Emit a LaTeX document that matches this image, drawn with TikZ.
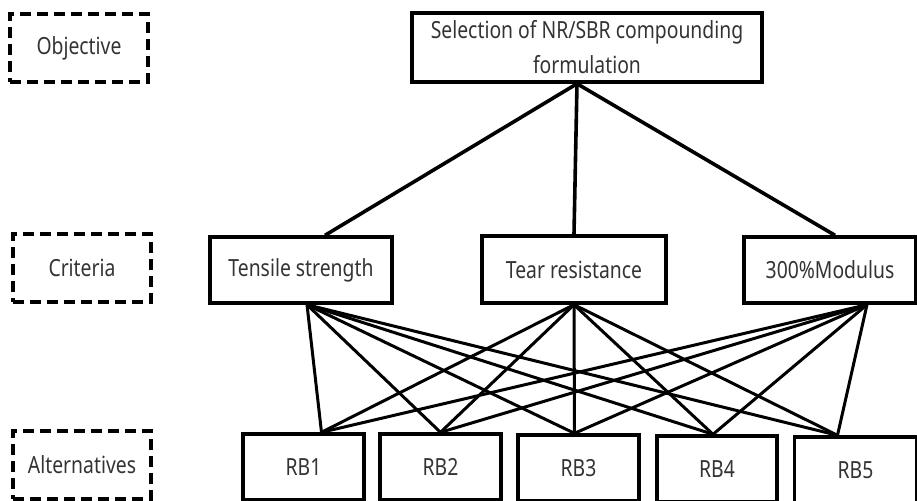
\documentclass[tikz,border=0pt]{standalone}
\usepackage{fontspec}
\setmainfont[FakeStretch=0.82]{Noto Sans}
\usetikzlibrary{positioning}

\begin{document}
\begin{tikzpicture}[
    x=0.5pt, y=-0.5pt,
    every node/.style={align=center, inner sep=0pt,
      font=\fontsize{11.8}{17.5}\selectfont, text=black!80},
    level/.style={draw, dashed, dash pattern=on 5.5pt off 3pt,
      line width=1.9pt, minimum width=69pt, minimum height=34pt},
    box/.style={draw, line width=1.7pt},
    link/.style={line width=1.5pt}
  ]
  \useasboundingbox (0,0) rectangle (917,500);

  % Levels on the left
  \node[level] (objective) at (79,48) {Objective};
  \node[level] (criteria) at (82,268) {Criteria};
  \node[level] (alternatives) at (82,465) {Alternatives};

  % Goal
  \node[box, minimum width=175pt, minimum height=34.5pt] (goal) at (587,47.5)
    {Selection of NR/SBR compounding\\formulation};

  % Criteria
  \node[box, minimum width=91pt, minimum height=33pt] (tensile) at (301,270) {Tensile strength};
  \node[box, minimum width=92pt, minimum height=33.5pt] (tear) at (574,269.5) {Tear resistance};
  \node[box, minimum width=86pt, minimum height=33pt] (modulus) at (830,270) {300\%Modulus};

  % Alternatives
  \node[box, minimum width=60.5pt, minimum height=33pt] (rb1) at (303.5,467) {RB1};
  \node[box, minimum width=60.5pt, minimum height=33pt] (rb2) at (440.5,467) {RB2};
  \node[box, minimum width=60.5pt, minimum height=33pt] (rb3) at (578.5,468) {RB3};
  \node[box, minimum width=60pt, minimum height=33pt] (rb4) at (717,469) {RB4};
  \node[box, minimum width=61pt, minimum height=33pt] (rb5) at (855.5,470) {RB5};

  % Goal to criteria
  \draw[link, line width=1.8pt] ([xshift=-5pt]goal.south) -- ([xshift=12pt]tensile.north);
  \draw[link, line width=1.8pt] ([xshift=-5pt]goal.south) -- (tear.north);
  \draw[link, line width=1.8pt] ([xshift=-5pt]goal.south) -- ([xshift=2.5pt]modulus.north);

  % Criteria to alternatives
  \draw[link] ([xshift=3pt]tensile.south) -- ([xshift=9pt]rb1.north);
  \draw[link] ([xshift=3pt]tensile.south) -- (rb2.north);
  \draw[link] ([xshift=3pt]tensile.south) -- ([xshift=-2pt]rb3.north);
  \draw[link] ([xshift=3pt]tensile.south) -- ([xshift=-2pt]rb4.north);
  \draw[link] ([xshift=3pt]tensile.south) -- ([xshift=-9pt]rb5.north);

  \draw[link] (tear.south) -- ([xshift=9pt]rb1.north);
  \draw[link] (tear.south) -- (rb2.north);
  \draw[link] (tear.south) -- ([xshift=-2pt]rb3.north);
  \draw[link] (tear.south) -- ([xshift=-2pt]rb4.north);
  \draw[link] (tear.south) -- ([xshift=-9pt]rb5.north);

  \draw[link] ([xshift=18.5pt]modulus.south) -- ([xshift=9pt]rb1.north);
  \draw[link] ([xshift=18.5pt]modulus.south) -- (rb2.north);
  \draw[link] ([xshift=18.5pt]modulus.south) -- ([xshift=-2pt]rb3.north);
  \draw[link] ([xshift=18.5pt]modulus.south) -- ([xshift=-2pt]rb4.north);
  \draw[link] ([xshift=18.5pt]modulus.south) -- ([xshift=-9pt]rb5.north);
\end{tikzpicture}
\end{document}
